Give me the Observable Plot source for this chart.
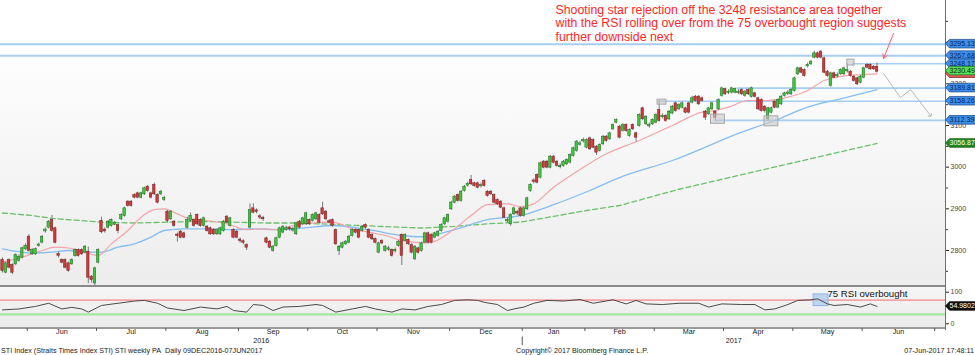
<!DOCTYPE html>
<html><head><meta charset="utf-8">
<script src="https://cdn.jsdelivr.net/npm/d3@7"></script>
<script src="https://cdn.jsdelivr.net/npm/@observablehq/plot@0.6"></script>
<style>
body{margin:0;background:#fff;}
#wrap{position:relative;width:975px;height:355px;overflow:hidden;font-family:'Liberation Sans',Arial,sans-serif;}
#wrap svg{position:absolute;left:0;}
.bg,.ln,.cap{position:absolute;}
.cap{font-size:7.2px;color:#222;white-space:nowrap;line-height:8px;}
</style></head><body><div id="wrap">
<div class="bg" style="left:0;top:0;width:945px;height:285px;background:linear-gradient(to bottom,#ffffff 0%,#ffffff 15%,#f6f6f6 55%,#ededed 100%);"></div>
<div class="bg" style="left:0;top:287px;width:945px;height:41px;background:linear-gradient(to bottom,#f5f5f5,#ebebeb);"></div>
<div class="ln" style="left:0;top:284.5px;width:945px;height:2.5px;background:#8a8a8a;"></div>
<div class="ln" style="left:0;top:327.3px;width:945px;height:1.4px;background:#9a9a9a;"></div>
<div class="ln" style="left:944.5px;top:0;width:1px;height:330px;background:#6f6f6f;"></div>
<div class="cap" style="left:1px;top:346.5px;">STI Index (Straits Times Index STI) STI weekly PA&nbsp; Daily 09DEC2016-07JUN2017</div>
<div class="cap" style="left:516px;top:346.5px;">Copyright© 2017 Bloomberg Finance L.P.</div>
<div class="cap" style="right:1px;top:346.5px;">07-Jun-2017 17:48:11</div>
</div>
<script>
// ---------- DATA (daily candles, index = trading day) ----------
const open = [
2776,2748,2776,2764,2768,2776,2784,2804,2832,2792,
2792,2812,2820,2847,2856,2872,2852,2790,2776,2776,
2768,2768,2788,2800,2800,2796,2796,2736,2722,2772,
2870,2849,2856,2860,2863,2860,2876,2884,2916,2916,
2932,2936,2928,2936,2952,2936,2956,2932,2936,2923,
2892,2876,2868,2837,2844,2840,2856,2872,2872,2884,
2872,2860,2856,2852,2848,2840,2840,2848,2880,2860,
2848,2844,2825,2821,2812,2856,2900,2895,2881,2877,
2828,2820,2800,2812,2832,2844,2851,2853,2849,2840,
2868,2864,2864,2872,2872,2876,2884,2900,2892,2869,
2872,2848,2800,2808,2816,2820,2836,2848,2848,2848,
2860,2848,2836,2826,2796,2822,2800,2803,2800,2799,
2812,2836,2824,2824,2812,2780,2804,2800,2820,2840,
2836,2832,2836,2848,2864,2870,2900,2916,2932,2920,
2944,2957,2968,2960,2960,2955,2966,2940,2940,2932,
2920,2916,2900,2871,2864,2888,2891,2900,2884,2900,
2944,2967,2980,2976,3012,3012,3000,3024,3012,3001,
3004,3008,3012,3028,3040,3055,3063,3048,3068,3064,
3048,3040,3056,3072,3068,3092,3108,3096,3088,3100,
3076,3100,3080,3100,3140,3104,3099,3104,3108,3136,
3121,3122,3116,3130,3152,3140,3144,3140,3152,3156,
3168,3168,3164,3132,3128,3140,3132,3140,3172,3186,
3179,3180,3180,3179,3184,3172,3184,3170,3176,3164,
3160,3144,3116,3132,3156,3144,3152,3172,3177,3176,
3184,3224,3236,3232,3243,3248,3264,3272,3276,3260,
3228,3196,3224,3219,3224,3224,3231,3228,3216,3212,
3204,3216,3244,3244,3240,3240];
const high = [
2782,2772,2780,2768,2792,2790,2808,2816,2838,2804,
2806,2818,2836,2854,2872,2884,2856,2796,2780,2780,
2772,2780,2804,2804,2804,2812,2808,2740,2760,2804,
2880,2854,2872,2876,2870,2864,2888,2904,2920,2920,
2936,2940,2940,2952,2956,2940,2962,2936,2944,2930,
2896,2896,2872,2842,2848,2844,2880,2890,2876,2888,
2876,2880,2860,2856,2852,2852,2856,2872,2884,2880,
2852,2848,2830,2826,2816,2912,2912,2900,2886,2882,
2832,2824,2812,2832,2856,2860,2858,2858,2856,2868,
2872,2880,2892,2876,2888,2892,2888,2916,2896,2874,
2876,2852,2812,2820,2824,2836,2852,2852,2852,2860,
2864,2852,2840,2830,2820,2826,2812,2810,2804,2806,
2824,2840,2840,2828,2816,2812,2808,2820,2844,2844,
2840,2844,2848,2864,2880,2888,2918,2932,2936,2944,
2956,2964,2980,2964,2964,2962,2970,2944,2944,2936,
2924,2920,2904,2878,2888,2904,2896,2904,2904,2928,
2960,2972,2984,3012,3016,3016,3028,3028,3016,3008,
3016,3020,3032,3048,3064,3062,3070,3068,3072,3068,
3052,3056,3076,3076,3084,3104,3116,3100,3104,3104,
3092,3104,3084,3128,3144,3124,3106,3116,3128,3160,
3128,3126,3136,3148,3156,3152,3156,3144,3156,3170,
3172,3172,3168,3136,3144,3156,3136,3164,3192,3190,
3186,3192,3190,3186,3188,3184,3188,3192,3180,3168,
3164,3148,3144,3144,3160,3164,3172,3180,3184,3188,
3216,3240,3240,3236,3250,3256,3278,3276,3280,3264,
3232,3228,3228,3226,3236,3240,3248,3232,3220,3216,
3220,3240,3248,3248,3244,3250];
const low = [
2746,2744,2756,2742,2764,2772,2780,2800,2796,2788,
2788,2808,2816,2842,2852,2844,2816,2782,2768,2756,
2748,2764,2784,2784,2788,2792,2720,2722,2716,2768,
2840,2842,2852,2856,2860,2840,2872,2880,2904,2904,
2924,2924,2924,2932,2940,2924,2932,2912,2932,2918,
2866,2872,2856,2820,2828,2828,2852,2868,2856,2860,
2856,2856,2844,2836,2836,2836,2836,2844,2864,2856,
2828,2828,2818,2814,2800,2852,2888,2888,2874,2870,
2816,2804,2796,2808,2828,2840,2846,2846,2844,2836,
2852,2860,2860,2860,2868,2872,2864,2884,2872,2864,
2856,2812,2788,2804,2812,2816,2832,2840,2828,2844,
2852,2828,2824,2816,2792,2814,2796,2798,2784,2794,
2808,2764,2820,2812,2792,2776,2792,2796,2816,2816,
2816,2828,2832,2844,2860,2866,2896,2912,2916,2916,
2940,2952,2956,2952,2948,2950,2952,2928,2932,2912,
2908,2900,2876,2866,2858,2884,2884,2880,2880,2896,
2940,2960,2960,2972,2996,2996,2996,3008,3000,2996,
3000,3004,3008,3024,3036,3050,3058,3044,3040,3044,
3028,3036,3052,3060,3064,3088,3104,3068,3084,3084,
3072,3088,3060,3096,3112,3100,3094,3100,3104,3108,
3116,3108,3112,3126,3132,3136,3140,3128,3128,3152,
3156,3148,3156,3112,3124,3136,3110,3136,3168,3172,
3174,3176,3176,3174,3172,3168,3172,3166,3166,3136,
3132,3130,3110,3128,3140,3140,3148,3168,3172,3172,
3180,3220,3224,3216,3238,3244,3260,3260,3260,3224,
3216,3192,3212,3214,3220,3220,3226,3216,3204,3196,
3200,3212,3236,3232,3232,3226];
const close = [
2752,2768,2760,2748,2788,2784,2804,2810,2800,2800,
2802,2813,2832,2849,2868,2848,2820,2788,2772,2760,
2752,2776,2800,2788,2792,2808,2736,2730,2756,2800,
2845,2847,2868,2872,2865,2848,2884,2900,2908,2908,
2928,2928,2936,2948,2944,2928,2936,2916,2940,2925,
2872,2892,2860,2836,2832,2832,2872,2882,2860,2864,
2860,2876,2848,2840,2840,2848,2852,2868,2868,2876,
2832,2832,2824,2820,2808,2896,2892,2894,2880,2876,
2820,2808,2808,2828,2852,2856,2852,2852,2850,2864,
2856,2876,2888,2864,2884,2888,2868,2888,2876,2868,
2860,2816,2808,2816,2820,2832,2848,2844,2832,2856,
2856,2832,2828,2820,2816,2818,2808,2804,2788,2800,
2820,2788,2836,2816,2796,2808,2796,2816,2840,2820,
2820,2840,2844,2860,2876,2884,2914,2928,2920,2940,
2952,2958,2960,2956,2952,2956,2956,2932,2936,2916,
2912,2904,2880,2872,2884,2900,2890,2884,2900,2924,
2956,2966,2964,3008,3000,3000,3024,3012,3004,3002,
3012,3016,3028,3044,3060,3056,3064,3064,3044,3048,
3036,3052,3072,3064,3080,3100,3112,3072,3100,3088,
3088,3092,3072,3124,3116,3120,3100,3112,3124,3112,
3122,3112,3132,3144,3136,3148,3152,3132,3132,3164,
3160,3152,3160,3120,3140,3152,3120,3160,3188,3176,
3180,3188,3186,3180,3176,3180,3176,3188,3170,3140,
3136,3136,3140,3140,3144,3160,3168,3176,3178,3184,
3212,3236,3228,3220,3244,3252,3272,3264,3264,3228,
3220,3224,3216,3220,3232,3236,3232,3220,3208,3200,
3216,3236,3240,3236,3236,3230];

// moving averages: trading-day index + value
const ma20Day = [0,6,12,16,20,24,29,33,38,42,46,49,53,56,62,68,74,79,83,88,94,100,106,111,116,121,129,133,137,142,147,153,157,161,167,173,183,193,203,212,216,220,226,232,238,244,249,256,260,265];
const ma20Val = [2772,2784,2800,2808,2806,2798,2788,2816,2848,2880,2898,2900,2888,2878,2872,2864,2850,2852,2850,2860,2866,2868,2852,2844,2836,2824,2818,2830,2852,2884,2910,2912,2905,2912,2952,2984,3032,3064,3100,3132,3136,3144,3160,3160,3168,3184,3208,3220,3222,3224];
const ma50Day = [0,6,9,15,20,26,30,35,40,45,49,55,62,70,76,84,90,100,111,121,127,137,147,157,167,178,187,203,224,234,244,254,265];
const ma50Val = [2804,2796,2794,2796,2800,2796,2796,2808,2816,2832,2848,2852,2852,2850,2852,2850,2853,2860,2850,2836,2833,2850,2874,2884,2910,2944,2975,3016,3084,3112,3144,3164,3186];
const ma200Day = [0,9,15,30,40,50,60,70,80,90,105,120,127,137,147,157,167,177,187,205,224,242,265];
const ma200Val = [2890,2884,2877,2868,2866,2868,2870,2868,2866,2866,2861,2856,2854,2858,2864,2868,2882,2896,2908,2947,2982,3015,3057];

// RSI (sampled)
const rsiDay = [0,5,10,14,18,21,24,26,30,35,40,43,47,50,55,60,65,68,70,74,76,79,82,85,90,95,97,101,106,110,113,118,121,125,129,133,137,141,144,146,150,153,155,158,161,165,170,175,179,185,189,192,195,200,205,211,214,218,224,228,231,234,238,241,245,247,250,252,256,260,263,265];
const rsiValue = [44,47,55,65,47,52,47,37,58,65,72,74,65,50,42,53,47,55,42,37,61,58,42,53,55,61,58,37,47,55,47,37,47,44,55,61,74,76,74,68,61,42,47,53,65,74,72,77,65,76,63,74,63,61,65,65,53,63,61,61,44,47,61,74,76,79,63,58,61,53,63,54.98];

// horizontal levels
const levelValues = [3295.13, 3267.68, 3248.17, 3189.81, 3158.26, 3112.39];
const levelStartDay = [-0.6, -0.6, 257.5, 222.6, 199.4, 216];

// highlight boxes (day range, value range)
const boxDay1 = [198.5, 214.7, 230.9, 256];
const boxDay2 = [201.2, 218.9, 235.1, 258.2];
const boxLow = [3150, 3104, 3098, 3244];
const boxHigh = [3162, 3126, 3122, 3258];

// projected path & arrow
const pathDay = [267, 272.1, 275.2, 281.2];
const pathVal = [3225, 3167, 3186, 3124];

// axis labels
const monthLabels = ["Jun","Jul","Aug","Sep","Oct","Nov","Dec","Jan","Feb","Mar","Apr","May","Jun"];
const monthBounds = [7.5,28.5,49.5,71.5,92.5,113.5,135.5,157.5,176.5,197.5,218.5,239.5,260.5,282.5];
const yearLabels = ["2016","2017"];
const yearBoundary = 157.5;
const priceTicks = [2800,2900,3000,3100,3200];
const priceMinor = [2750,2850,2950,3050,3150,3250,3300,3350];
const rsiTicks = [0,100];

const note = "Shooting star rejection off the 3248 resistance area together\nwith the RSI rolling over from the 75 overbought region suggests\nfurther downside next";

// tags on right axis
const tagValues = [3295.13, 3267.68, 3248.17, 3224.3, 3230.49, 3189.81, 3158.26, 3112.39, 3056.87];
const tagLabels = ["3295.13","3267.68","3248.17","","3230.49","3189.81","3158.26","3112.39","3056.87"];
const tagKinds = ["lvl","lvl","lvl","ma20","last","lvl","lvl","lvl","ma200"];

// ---------- BUILD ----------
const FONT = "'Liberation Sans', Arial, sans-serif";
const X_DOMAIN = [-0.606, 285.76];
const candles = close.map((c, i) => ({i, o: open[i], h: high[i], l: low[i], c}));
const pts = (xs, vs) => xs.map((x, k) => ({i: x, v: vs[k]}));
const levels = levelValues.map((v, k) => ({v, s: levelStartDay[k]}));
const boxes = boxDay1.map((d, k) => ({x1: d, x2: boxDay2[k], y1: boxLow[k], y2: boxHigh[k]}));
const up = d => d.c >= d.o;

const main = Plot.plot({
  width: 975, height: 287, marginTop: 0, marginBottom: 2, marginLeft: 0, marginRight: 30,
  style: {background: "transparent", fontFamily: FONT, fontSize: "7px", overflow: "visible"},
  x: {domain: X_DOMAIN, axis: null},
  y: {domain: [2716, 3400]},
  marks: [
    Plot.ruleY(levels, {y: "v", x1: "s", x2: () => X_DOMAIN[1], stroke: "#a6cdf2", strokeWidth: d => d.s < 0 ? 2 : 1.6}),
    Plot.line(pts(ma200Day, ma200Val), {x: "i", y: "v", stroke: "#6cbf6c", strokeWidth: 1.3, strokeDasharray: "5,3"}),
    Plot.line(pts(ma50Day, ma50Val), {x: "i", y: "v", stroke: "#86bdf2", strokeWidth: 1.3, curve: "monotone-x"}),
    Plot.line(pts(ma20Day, ma20Val), {x: "i", y: "v", stroke: "#f4a4a8", strokeWidth: 1.2, curve: "monotone-x"}),
    Plot.ruleX(candles, {x: "i", y1: "l", y2: "h", stroke: "#7a7a7a", strokeWidth: 1}),
    Plot.rect(candles, {x1: d => d.i - 0.37, x2: d => d.i + 0.37, y1: "o", y2: "c",
      insetTop: -0.5, insetBottom: -0.5,
      fill: d => up(d) ? "#3cc83c" : "#d23a3a", stroke: d => up(d) ? "#1d661d" : "#6e1a1a", strokeWidth: 0.5}),
    Plot.rect(boxes, {x1: "x1", x2: "x2", y1: "y1", y2: "y2", fill: "#c8c8c8", fillOpacity: 0.6, stroke: "#a8a8a8", strokeWidth: 1}),
    Plot.line(pts(pathDay, pathVal), {x: "i", y: "v", stroke: "#b8b8b8", strokeWidth: 1, markerEnd: "arrow"}),
    Plot.arrow([{x1: 270, y1: 3321, x2: 267, y2: 3261}], {x1: "x1", y1: "y1", x2: "x2", y2: "y2", stroke: "#ff5a72", strokeWidth: 1, headLength: 7}),
    Plot.text([note], {x: () => 167.6, y: () => 3391, text: d => d, textAnchor: "start", lineAnchor: "top",
      lineHeight: 1.1, fontSize: 12.3, fill: "#ff2626", fontFamily: FONT}),
    Plot.axisY({anchor: "right", ticks: priceMinor, tickSize: 2, tickFormat: () => "", label: null, stroke: "#333"}),
    Plot.axisY({anchor: "right", ticks: priceTicks, tickSize: 3, tickPadding: 2, tickFormat: d => String(d), label: null, stroke: "#222", fill: "#444", fontSize: 7})
  ]
});

const rsiChart = Plot.plot({
  width: 975, height: 69, marginTop: 1, marginBottom: 27, marginLeft: 0, marginRight: 30,
  style: {background: "transparent", fontFamily: FONT, fontSize: "7px", overflow: "visible"},
  x: {domain: X_DOMAIN, axis: null},
  y: {domain: [-14.9, 114.9]},
  marks: [
    Plot.ruleY([30], {stroke: "#a4e8a0", strokeWidth: 2.2}),
    Plot.ruleY([75], {stroke: "#ff6b6b", strokeWidth: 1}),
    Plot.rect([{x1: 245.8, x2: 250.3, y1: 56, y2: 93}], {x1: "x1", x2: "x2", y1: "y1", y2: "y2", fill: "#a9cbf0", fillOpacity: 0.75, stroke: "#8fb3e6"}),
    Plot.line(pts(rsiDay, rsiValue), {x: "i", y: "v", stroke: "#4a4a4a", strokeWidth: 1}),
    Plot.text(["75 RSI overbought"], {x: () => 250, y: () => 95, text: d => d, textAnchor: "start", fontSize: 9.6, fill: "#111", fontFamily: FONT}),
    Plot.axisY({anchor: "right", ticks: rsiTicks, tickSize: 3, tickPadding: 2, label: null, stroke: "#222", fill: "#444", fontSize: 7}),
    Plot.axisX({ticks: monthBounds, tickSize: 3, tickFormat: () => "", label: null, stroke: "#555"}),
    Plot.ruleX([yearBoundary], {y1: -42, y2: -69, stroke: "#555", strokeWidth: 1}),
    Plot.text(monthLabels.map((m, k) => ({m, x: (monthBounds[k] + monthBounds[k + 1]) / 2})),
      {x: "x", text: "m", frameAnchor: "bottom", dy: 5.5, fontSize: 7.2, fill: "#222"}),
    Plot.text(yearLabels.map((t, k) => ({t, x: k === 0 ? (X_DOMAIN[0] + yearBoundary) / 2 : (yearBoundary + X_DOMAIN[1]) / 2})),
      {x: "x", text: "t", frameAnchor: "bottom", dy: 14, fontSize: 7.2, fill: "#222"})
  ]
});

const wrap = document.getElementById("wrap");
main.style.top = "0px";
rsiChart.style.top = "286px";
wrap.appendChild(main);
wrap.appendChild(rsiChart);

function addTag(svg, y, label, fill, stroke, color) {
  const g = d3.select(svg).append("g").attr("text-anchor", "start");
  g.append("path").attr("d", `M945.5,${y} L949.5,${y - 4.3} L976,${y - 4.3} L976,${y + 4.3} L949.5,${y + 4.3} Z`)
    .attr("fill", fill).attr("stroke", stroke).attr("stroke-width", 0.7);
  if (label) g.append("text").attr("x", 949.5).attr("y", y).attr("dy", "0.36em").attr("fill", color)
    .attr("text-anchor", "start").attr("font-size", 7).attr("font-family", FONT).text(label);
}
const ys = main.scale("y");
const kindStyle = {
  lvl: ["#3d8fea", "#1b3f80", "#0b1f4a"],
  ma20: ["#e25a5a", "#7a1a1a", "#2a0a0a"],
  last: ["#56dd56", "#1d661d", "#0e2a0e"],
  ma200: ["#1f8a1f", "#0d4d0d", "#ffffff"]
};
tagValues.forEach((v, k) => {
  const s = kindStyle[tagKinds[k]];
  addTag(main, ys.apply(v), tagLabels[k], s[0], s[1], s[2]);
});
const rs = rsiChart.scale("y");
addTag(rsiChart, rs.apply(rsiValue[rsiValue.length - 1]), "54.9802", "#111111", "#000", "#ffffff");
</script>
</body></html>
